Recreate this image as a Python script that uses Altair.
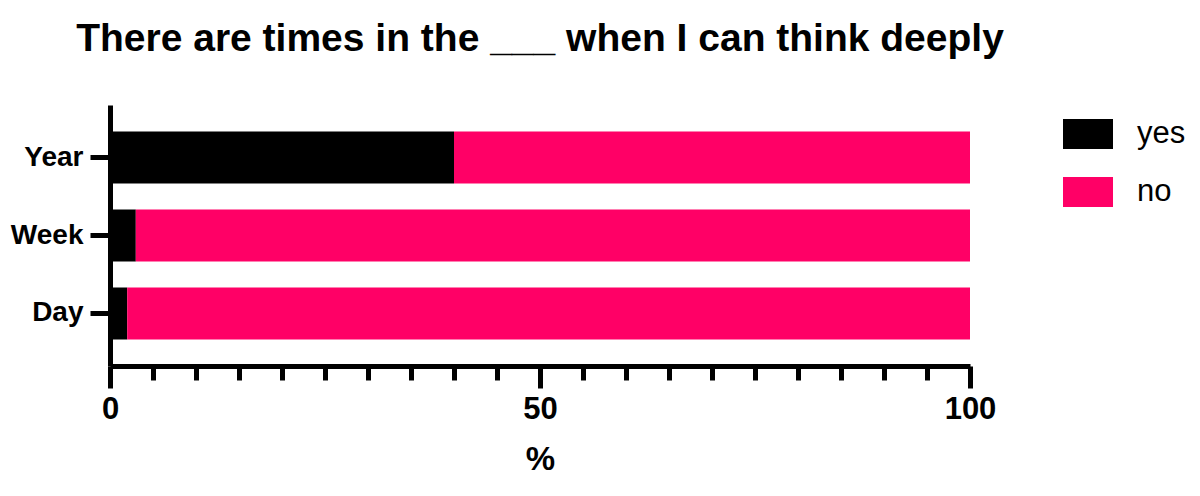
import altair as alt
import pandas as pd

periods = ["Year", "Week", "Day"]
yes_pct = [40, 3, 2]
no_pct = [60, 97, 98]
answers = ["yes", "no"]
answer_colors = ["#000000", "#ff0066"]
x_ticks = list(range(0, 101, 5))

rows = []
for p, y, n in zip(periods, yes_pct, no_pct):
    rows.append({"period": p, "answer": "yes", "pct": y, "order": 0})
    rows.append({"period": p, "answer": "no", "pct": n, "order": 1})
df = pd.DataFrame(rows)

FONT = "Liberation Sans"

chart = alt.Chart(df).mark_bar().encode(
    x=alt.X(
        "pct:Q",
        stack="zero",
        scale=alt.Scale(domain=[0, 100], nice=False, zero=True),
        axis=alt.Axis(
            title="%",
            values=x_ticks,
            labelExpr="datum.value % 50 === 0 ? datum.label : ''",
            tickSize={"condition": {"test": "datum.value % 50 === 0", "value": 22}, "value": 14},
            tickWidth=5,
            tickColor="black",
            domainWidth=5,
            domainColor="black",
            labelFont=FONT,
            labelFontSize=31,
            labelFontWeight="bold",
            labelColor="black",
            labelPadding=6,
            labelFlush=False,
            titleFont=FONT,
            titleFontSize=33,
            titleFontWeight="bold",
            titleColor="black",
            titlePadding=19,
            grid=False,
            zindex=1,
        ),
    ),
    y=alt.Y(
        "period:N",
        sort=periods,
        scale=alt.Scale(paddingInner=0.333, paddingOuter=0.34),
        axis=alt.Axis(
            title=None,
            tickSize=20,
            tickWidth=5,
            tickColor="black",
            domainWidth=5,
            domainColor="black",
            labelFont=FONT,
            labelFontSize=28,
            labelFontWeight="bold",
            labelColor="black",
            labelPadding=7,
            grid=False,
            zindex=1,
        ),
    ),
    color=alt.Color(
        "answer:N",
        scale=alt.Scale(domain=answers, range=answer_colors),
        legend=alt.Legend(
            title=None,
            orient="none",
            legendX=953,
            legendY=4,
            symbolType="M-1,-0.6H1V0.6H-1Z",
            symbolSize=2500,
            symbolStrokeWidth=0,
            symbolOpacity=1,
            labelFont=FONT,
            labelFontSize=31,
            labelColor="black",
            labelOffset=24,
            rowPadding=18,
        ),
    ),
    order=alt.Order("order:Q"),
).properties(
    width=860,
    height=261,
    title=alt.TitleParams(
        "There are times in the ___ when I can think deeply",
        font=FONT,
        fontSize=39,
        fontWeight="bold",
        color="black",
        anchor="middle",
        offset=46,
    ),
    autosize=alt.AutoSizeParams(type="none"),
    padding={"left": 102, "top": 97, "right": 222, "bottom": 120},
).configure_view(stroke=None)

chart.save("out.html", embed_options={"renderer": "svg", "actions": False})
